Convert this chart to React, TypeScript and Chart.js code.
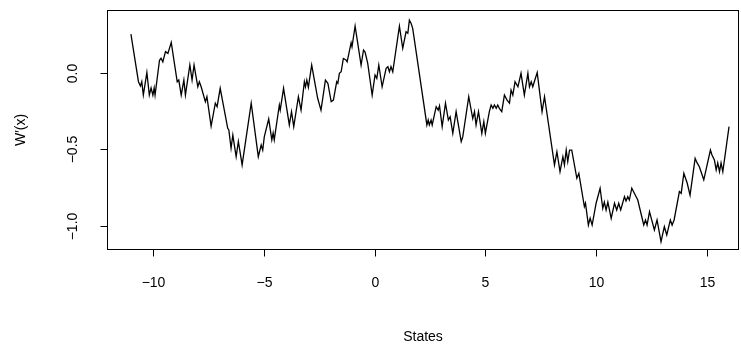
import React, { useEffect, useRef } from "react";
import { Chart, registerables } from "chart.js";
Chart.register(...registerables);

const xs: number[] = [
  -11.0, -10.66, -10.57, -10.51, -10.44, -10.28, -10.17, -10.09, -10.01, -9.95, -9.91, -9.71, -9.64, -9.56, -9.44, -9.33, -9.18,
  -8.91, -8.84, -8.73, -8.61, -8.54, -8.34, -8.24, -8.15, -7.98, -7.91, -7.83, -7.64, -7.57, -7.38, -7.19, -7.11, -6.97,
  -6.63, -6.58, -6.48, -6.40, -6.25, -6.15, -5.98, -5.57, -5.25, -5.12, -5.05, -4.98, -4.78, -4.64, -4.58, -4.53,
  -4.30, -4.26, -4.11, -3.85, -3.75, -3.65, -3.44, -3.32, -3.17, -3.12, -3.06, -2.99, -2.84, -2.57, -2.42, -2.22, -2.11,
  -1.96, -1.86, -1.71, -1.66, -1.59, -1.51, -1.41, -1.29, -1.24, -1.06, -1.02, -0.88, -0.61, -0.50, -0.43, -0.31, -0.11,
  0.02, 0.10, 0.19, 0.34, 0.52, 0.60, 0.67, 0.74, 0.82, 1.12, 1.27, 1.42, 1.50, 1.57, 1.65, 1.72,
  2.36, 2.42, 2.47, 2.55, 2.60, 2.78, 2.87, 2.93, 3.05, 3.20, 3.33, 3.41, 3.53, 3.68, 3.91, 3.98, 4.25, 4.43, 4.51, 4.58,
  4.69, 4.84, 4.93, 5.00, 5.18, 5.26, 5.34, 5.41, 5.49, 5.56, 5.63, 5.74, 5.86, 5.98, 6.09, 6.16, 6.24, 6.34, 6.47, 6.61,
  6.76, 6.92, 6.99, 7.07, 7.14, 7.21, 7.34, 7.56, 7.67, 8.12, 8.23, 8.37, 8.50, 8.57, 8.65, 8.72, 8.80, 8.90, 9.13, 9.22,
  9.47, 9.52, 9.65, 9.73, 9.82, 10.0, 10.18, 10.30, 10.37, 10.45, 10.53, 10.68, 10.83, 10.93, 11.02, 11.11, 11.28, 11.35,
  11.43, 11.50, 11.61, 11.72, 11.88, 12.15, 12.23, 12.30, 12.41, 12.63, 12.75, 12.93, 13.08, 13.19, 13.35, 13.43, 13.52,
  13.76, 13.84, 13.96, 14.11, 14.24, 14.47, 14.56, 14.66, 14.86, 15.16, 15.23, 15.34, 15.42, 15.49, 15.57, 15.64, 15.72, 16.0,
];

const ys: number[] = [
  0.25, -0.06, -0.088, -0.06, -0.147, 0.0, -0.147, -0.1, -0.147, -0.1, -0.147, 0.08, 0.093, 0.07, 0.136, 0.125, 0.197,
  -0.06, -0.049, -0.147, -0.049, -0.147, 0.049, -0.049, 0.049, -0.093, -0.06, -0.093, -0.19, -0.158, -0.35, -0.2, -0.223, -0.103,
  -0.364, -0.375, -0.494, -0.408, -0.549, -0.45, -0.603, -0.2, -0.549, -0.473, -0.506, -0.42, -0.303, -0.44, -0.395, -0.44,
  -0.212, -0.245, -0.103, -0.342, -0.255, -0.353, -0.158, -0.245, -0.06, -0.093, -0.049, -0.097, 0.049, -0.168, -0.245, -0.049, -0.07,
  -0.19, -0.18, -0.06, -0.07, -0.005, 0.005, 0.092, 0.082, 0.07, 0.194, 0.168, 0.303, 0.049, 0.147, 0.134, 0.06, -0.147,
  -0.016, -0.038, 0.049, -0.093, 0.027, 0.038, 0.005, 0.038, 0.005, 0.303, 0.158, 0.266, 0.256, 0.342, 0.32, 0.288,
  -0.342, -0.31, -0.342, -0.31, -0.342, -0.223, -0.245, -0.217, -0.353, -0.2, -0.31, -0.288, -0.397, -0.255, -0.45, -0.42, -0.158, -0.3, -0.255, -0.342,
  -0.255, -0.397, -0.32, -0.397, -0.255, -0.212, -0.234, -0.212, -0.234, -0.212, -0.234, -0.255, -0.147, -0.18, -0.2, -0.114, -0.147, -0.06, -0.093, -0.005,
  -0.147, -0.005, -0.093, -0.06, -0.093, -0.06, 0.0, -0.255, -0.158, -0.603, -0.517, -0.647, -0.549, -0.603, -0.506, -0.581, -0.506, -0.506, -0.69, -0.658,
  -0.875, -0.853, -0.995, -0.95, -0.995, -0.853, -0.755, -0.886, -0.845, -0.897, -0.845, -0.951, -0.853, -0.897, -0.853, -0.897, -0.81, -0.838,
  -0.81, -0.832, -0.755, -0.786, -0.832, -0.995, -0.962, -0.995, -0.908, -1.027, -0.962, -1.104, -1.006, -1.06, -0.962, -0.995, -0.962,
  -0.777, -0.788, -0.658, -0.721, -0.8, -0.56, -0.59, -0.615, -0.7, -0.506, -0.538, -0.571, -0.636, -0.59, -0.647, -0.59, -0.647, -0.353,
];

const xTicks: number[] = [-10, -5, 0, 5, 10, 15];
const xTickLabels: string[] = ["\u221210", "\u22125", "0", "5", "10", "15"];
const yTicks: number[] = [-1.0, -0.5, 0.0];
const yTickLabels: string[] = ["\u22121.0", "\u22120.5", "0.0"];
const xTitle = "States";
const yTitle = "W\u2032(x)";

const FONT = "14px 'Liberation Sans', Arial, Helvetica, sans-serif";

const axesPlugin = {
  id: "rAxes",
  afterDraw(chart: any) {
    const { ctx, chartArea } = chart;
    const sx = chart.scales.x;
    const sy = chart.scales.y;
    ctx.save();
    ctx.strokeStyle = "#000";
    ctx.fillStyle = "#000";
    ctx.lineWidth = 1;
    const L = Math.round(chartArea.left) + 0.5;
    const R = Math.round(chartArea.right) - 0.5;
    const T = Math.round(chartArea.top) + 0.5;
    const B = Math.round(chartArea.bottom) - 0.5;
    ctx.strokeRect(L, T, R - L, B - T);
    ctx.font = FONT;
    ctx.textAlign = "center";
    ctx.textBaseline = "middle";
    xTicks.forEach((v, i) => {
      const px = Math.round(sx.getPixelForValue(v)) + 0.5;
      ctx.beginPath();
      ctx.moveTo(px, B);
      ctx.lineTo(px, B + 7);
      ctx.stroke();
      ctx.fillText(xTickLabels[i], px, B + 34);
    });
    yTicks.forEach((v, i) => {
      const py = Math.round(sy.getPixelForValue(v)) + 0.5;
      ctx.beginPath();
      ctx.moveTo(L, py);
      ctx.lineTo(L - 7, py);
      ctx.stroke();
      ctx.save();
      ctx.translate(L - 34, py);
      ctx.rotate(-Math.PI / 2);
      ctx.fillText(yTickLabels[i], 0, 0);
      ctx.restore();
    });
    ctx.fillText(xTitle, (L + R) / 2, B + 88);
    ctx.save();
    ctx.translate(21, (T + B) / 2);
    ctx.rotate(-Math.PI / 2);
    ctx.fillText(yTitle, 0, 0);
    ctx.restore();
    ctx.restore();
  },
};

export default function App() {
  const ref = useRef<HTMLCanvasElement | null>(null);
  useEffect(() => {
    if (!ref.current) return;
    const data = xs.map((x, i) => ({ x, y: ys[i] }));
    const chart = new Chart(ref.current, {
      type: "line",
      data: {
        datasets: [
          {
            data,
            borderColor: "#000",
            borderWidth: 1.3,
            pointRadius: 0,
            tension: 0,
            fill: false,
          },
        ],
      },
      options: {
        animation: false,
        responsive: false,
        devicePixelRatio: 1,
        layout: { padding: { left: 107, right: 2, top: 10, bottom: 102 } },
        plugins: { legend: { display: false }, tooltip: { enabled: false } },
        scales: {
          x: { type: "linear", min: -12.08, max: 16.45, display: false },
          y: { type: "linear", min: -1.158, max: 0.408, display: false },
        },
      },
      plugins: [axesPlugin],
    });
    return () => chart.destroy();
  }, []);
  return (
    <div style={{ position: "fixed", left: 0, top: 0, width: 741, height: 352, background: "#fff" }}>
      <canvas ref={ref} width={741} height={352} style={{ width: 741, height: 352, display: "block" }} />
    </div>
  );
}
